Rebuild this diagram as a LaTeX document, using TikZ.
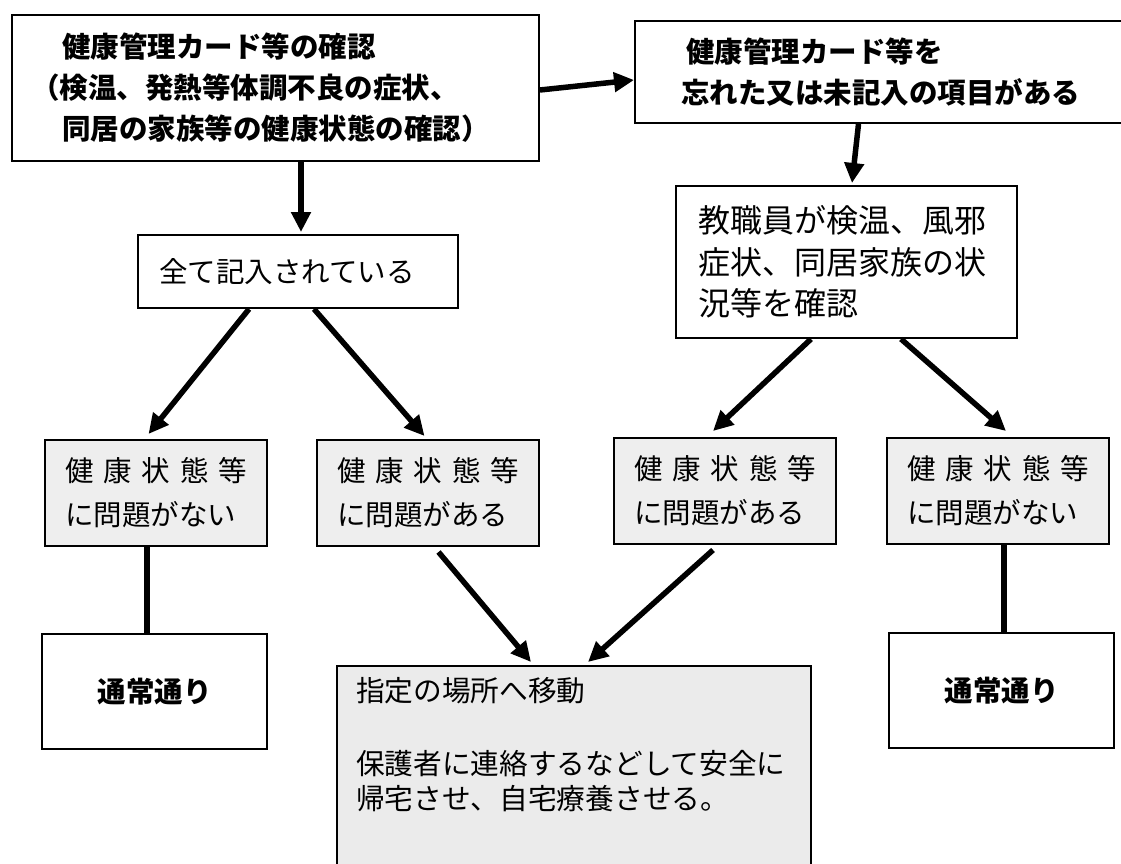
\documentclass[tikz,border=0pt]{standalone}
\usepackage{fontspec}
\newfontfamily\jp{Noto Sans CJK JP}
\usetikzlibrary{arrows.meta}
\definecolor{boxgray}{HTML}{EEEEEE}
\definecolor{movegray}{HTML}{EBEBEB}
\newcommand\kenko{\makebox[182pt][s]{健\hfil 康\hfil 状\hfil 態\hfil 等}}

\begin{document}
\begin{tikzpicture}[x=1pt,y=-1pt,
    box/.style={draw,line width=2pt,inner ysep=0pt,anchor=north west,align=left},
    boldtext/.style={font=\jp\bfseries\fontsize{28.5}{41}\selectfont},
    plaintext/.style={font=\jp\fontsize{28.5}{44}\selectfont},
    state/.style={box,plaintext,fill=boxgray,minimum height=106pt,inner xsep=20pt,text width=182pt},
    usual/.style={box,boldtext,align=center,minimum width=225pt,minimum height=115pt,inner xsep=0pt},
    arr/.style={line width=5.5pt,-{Triangle[length=20pt,width=19pt]}},
    bar/.style={line width=5.5pt}]
  \useasboundingbox (0,0) rectangle (1121,864);

  \draw node (check) [box,boldtext,minimum height=146pt,inner xsep=19pt,text width=489pt] at (11,14)
          {\hspace*{31pt}健康管理カード等の確認\\（検温、発熱等体調不良の症状、\\\hspace*{31pt}同居の家族等の健康状態の確認）}
        node (forgot) [box,boldtext,minimum height=102pt,inner xsep=46pt,text width=404pt] at (634,20)
          {\hspace*{5pt}健康管理カード等を\\忘れた又は未記入の項目がある}
        node (staff) [box,font=\jp\fontsize{32}{41.5}\selectfont,minimum height=152pt,inner xsep=22pt,text width=297pt] at (675,185)
          {教職員が検温、風邪\\症状、同居家族の状\\況等を確認}
        node (filled) [box,plaintext,minimum height=73pt,inner xsep=21pt,text width=278pt] at (137,234)
          {全て記入されている};

  \draw node (oka) [state] at (44,439) {\kenko\\に問題がない}
        node (nga) [state] at (316,439) {\kenko\\に問題がある}
        node (ngb) [state] at (613,437) {\kenko\\に問題がある}
        node (okb) [state] at (886,437) {\kenko\\に問題がない};

  \draw node (usuala) [usual] at (41,633) {通常通り}
        node (usualb) [usual] at (888,632) {通常通り};

  \node (move) [box,font=\jp\fontsize{28.7}{34.5}\selectfont,fill=movegray,inner xsep=19pt,text width=436pt,
                text height=35pt,text depth=180pt] at (336,665)
    {指定の場所へ移動\\[39pt]保護者に連絡するなどして安全に\\帰宅させ、自宅療養させる。};

  \draw[arr] ([yshift=-2pt]check.east) -- ([yshift=-8pt]forgot.west);
  \draw[arr] ([xshift=25.5pt]check.south) -- ([xshift=3pt,yshift=2pt]filled.north);
  \draw[arr] ([xshift=-24.5pt]forgot.south) -- ([xshift=5.5pt,yshift=2pt]staff.north);

  \draw[arr] ([xshift=-49pt]filled.south) -- ([xshift=-7.5pt,yshift=5pt]oka.north);
  \draw[arr] ([xshift=16pt]filled.south) -- ([xshift=-3.5pt,yshift=3pt]nga.north);
  \draw[arr] ([xshift=-35.5pt]staff.south) -- ([xshift=-12pt,yshift=6pt]ngb.north);
  \draw[arr] ([xshift=54.5pt]staff.south) -- ([xshift=8pt,yshift=6pt]okb.north);

  \draw[arr] ([xshift=10.5pt,yshift=-5pt]nga.south) -- ([xshift=-43pt,yshift=3pt]move.north);
  \draw[arr] ([xshift=-12pt,yshift=-5pt]ngb.south) -- ([xshift=14pt,yshift=3pt]move.north);

  \draw[bar] ([xshift=-9pt]oka.south) -- ([xshift=-9pt]oka.south |- usuala.north);
  \draw[bar] ([xshift=6pt]okb.south) -- ([xshift=6pt]okb.south |- usualb.north);
\end{tikzpicture}
\end{document}
